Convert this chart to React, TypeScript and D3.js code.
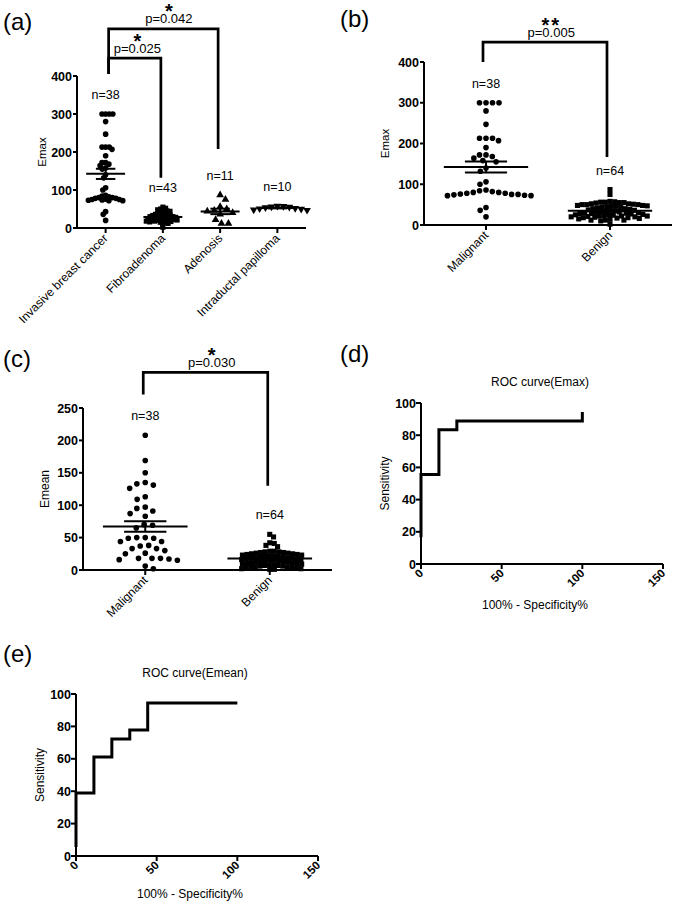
import React from "react";
import * as d3 from "d3";

// ---------------- DATA ----------------
const aCategories = ["Invasive breast cancer", "Fibroadenoma", "Adenosis", "Intraductal papilloma"];
const ibcEmax = [300, 300, 300, 300, 280, 247, 213, 213, 213, 207, 190, 172, 172, 168, 164, 158, 155, 140, 132, 106, 100,
  86, 84, 82, 80, 80, 78, 78, 76, 75, 75, 74, 73, 72, 72, 43, 36, 20];
const fibroEmax = [55, 52, 50, 48, 47, 45, 44, 42, 40, 38, 37, 36, 35, 34, 33, 32, 31, 30, 30, 29, 28, 28, 27, 26, 25, 25,
  24, 23, 22, 22, 21, 20, 20, 19, 18, 18, 17, 16, 15, 14, 12, 10, 2];
const adenosisEmax = [87, 75, 56, 50, 46, 44, 40, 36, 22, 12, 12];
const papillomaEmax = [58, 57, 56, 55, 54, 52, 51, 50, 48, 47];

const bcCategories = ["Malignant", "Benign"];
const malignantEmax = ibcEmax;
const benignEmax = [...fibroEmax, ...adenosisEmax, ...papillomaEmax];

const malignantEmean = [208, 169, 150, 135, 133, 131, 126, 113, 109, 97, 95, 91, 87, 83, 70, 69, 65, 50, 50, 49,
  49, 44, 44, 38, 37, 33, 33, 30, 26, 25, 18, 18, 18, 17, 16, 15, 6, 2];
const benignEmean = [55, 51, 42, 41, 38, 36,
  29, 29, 28, 28, 27, 27, 26, 26, 25, 25, 24, 24, 23, 23, 22, 22, 21, 21, 20, 20, 19, 19, 18, 18,
  17, 17, 16, 16, 15, 15, 14, 14, 13, 13, 12, 12, 11, 11, 10, 10, 9, 9, 8, 8, 7, 7, 6, 6, 5, 5,
  4, 4, 3, 3, 2, 2, 1, 1];

const emaxTicks = [0, 100, 200, 300, 400];
const emeanTicks = [0, 50, 100, 150, 200, 250];
const rocYTicks = [0, 20, 40, 60, 80, 100];
const rocXTicks = [0, 50, 100, 150];

const rocEmaxFpr = [0, 0, 11.11, 11.11, 22.22, 22.22, 100, 100];
const rocEmaxSens = [16.67, 55.56, 55.56, 83.33, 83.33, 88.89, 88.89, 94.44];
const rocEmeanFpr = [0, 0, 11.11, 11.11, 22.22, 22.22, 33.33, 33.33, 44.44, 44.44, 100];
const rocEmeanSens = [5.56, 38.89, 38.89, 61.11, 61.11, 72.22, 72.22, 77.78, 77.78, 94.44, 94.44];

const aTests = [
  { a: 0, b: 1, p: "p=0.025", stars: "*" },
  { a: 0, b: 2, p: "p=0.042", stars: "*" },
];
const bTests = [{ a: 0, b: 1, p: "p=0.005", stars: "**" }];
const cTests = [{ a: 0, b: 1, p: "p=0.030", stars: "*" }];

// ---------------- LAYOUT / STYLE ----------------
const FONT = "'Liberation Sans', Arial, Helvetica, sans-serif";
const INK = "#000";
// bracket levels in data units: top, left leg end, right leg end
const aBrackets = [
  { top: 447, left: 405, right: 132 },
  { top: 524, left: 405, right: 208 },
];
const bBrackets = [{ top: 449, left: 400, right: 167 }];
const cBrackets = [{ top: 305, left: 271, right: 130 }];

type Sym = "circle" | "square" | "tri" | "triDown";

function swarm(values: number[], y: (v: number) => number, D: number) {
  const pts = values.map((v) => ({ v, y: y(v), x: 0 }));
  const order = pts.slice().sort((a, b) => a.y - b.y);
  const placed: { x: number; y: number }[] = [];
  let flip = 1;
  for (const p of order) {
    const iv: [number, number][] = [];
    for (const q of placed) {
      const dy = Math.abs(q.y - p.y);
      if (dy < D) {
        const w = Math.sqrt(D * D - dy * dy);
        iv.push([q.x - w, q.x + w]);
      }
    }
    const cands = [0];
    iv.forEach(([a, b]) => cands.push(a, b));
    const ok = cands.filter((c) => iv.every(([a, b]) => c <= a + 1e-6 || c >= b - 1e-6));
    ok.sort((a, b) => {
      const d = Math.abs(a) - Math.abs(b);
      if (Math.abs(d) > 1e-6) return d;
      return flip * (a - b);
    });
    p.x = ok[0];
    flip = -flip;
    placed.push(p);
  }
  return pts;
}

function symPath(s: Sym) {
  if (s === "circle") return d3.symbol().type(d3.symbolCircle).size(25)()!;
  if (s === "square") return d3.symbol().type(d3.symbolSquare).size(26)()!;
  return d3.symbol().type(d3.symbolTriangle).size(26)()!;
}

function DotPanel(props: {
  categories: string[];
  groups: number[][];
  syms: Sym[];
  D: number[];
  x0: number; x1: number; yTop: number; yBot: number;
  domain: [number, number];
  ticks: number[];
  yLabel: string; yLabelX: number; yLabelSize: number;
  tests: { a: number; b: number; p: string; stars: string }[];
  brackets: { top: number; left: number; right: number }[];
  legDx: number[];
}) {
  const { categories, groups, syms, D, x0, x1, yTop, yBot, domain, ticks } = props;
  const x = d3.scaleBand().domain(categories).range([x0, x1]);
  const y = d3.scaleLinear().domain(domain).range([yBot, yTop]);
  const step = x.step();
  const cx = (i: number) => (x(categories[i]) as number) + x.bandwidth() / 2;
  const meanHalf = step * 0.34;
  const capHalf = step * 0.17;

  return (
    <g>
      {/* points */}
      {groups.map((vals, gi) => {
        const pts = swarm(vals, y, D[gi]);
        const path = symPath(syms[gi]);
        return (
          <g key={"g" + gi}>
            {pts.map((p, pi) => (
              <path key={pi} d={path} fill={INK}
                transform={`translate(${cx(gi) + p.x},${p.y})${syms[gi] === "triDown" ? " rotate(180)" : ""}`} />
            ))}
          </g>
        );
      })}
      {/* mean & SEM */}
      {groups.map((vals, gi) => {
        const m = d3.mean(vals)!;
        const sem = d3.deviation(vals)! / Math.sqrt(vals.length);
        const c = cx(gi);
        return (
          <g key={"m" + gi} stroke={INK} strokeWidth={2}>
            <line x1={c - meanHalf} x2={c + meanHalf} y1={y(m)} y2={y(m)} />
            <line x1={c - capHalf} x2={c + capHalf} y1={y(m + sem)} y2={y(m + sem)} />
            <line x1={c - capHalf} x2={c + capHalf} y1={y(m - sem)} y2={y(m - sem)} />
            <line x1={c} x2={c} y1={y(m + sem)} y2={y(m - sem)} />
          </g>
        );
      })}
      {/* n labels */}
      {groups.map((vals, gi) => (
        <text key={"n" + gi} x={cx(gi)} y={y(d3.max(vals)!) - 15} textAnchor="middle"
          fontFamily={FONT} fontSize={12.5} fill={INK}>{`n=${vals.length}`}</text>
      ))}
      {/* axes */}
      <line x1={x0} x2={x0} y1={yTop} y2={yBot + 1} stroke={INK} strokeWidth={2} />
      <line x1={x0 - 1} x2={x1} y1={yBot} y2={yBot} stroke={INK} strokeWidth={2} />
      {ticks.map((t) => (
        <g key={"yt" + t}>
          <line x1={x0 - 4} x2={x0} y1={y(t)} y2={y(t)} stroke={INK} strokeWidth={2} />
          <text x={x0 - 5} y={y(t)} dy="0.36em" textAnchor="end" fontFamily={FONT} fontWeight="bold"
            fontSize={12.5} fill={INK}>{t}</text>
        </g>
      ))}
      {categories.map((c, i) => (
        <g key={"xt" + i}>
          <line x1={cx(i)} x2={cx(i)} y1={yBot} y2={yBot + 5} stroke={INK} strokeWidth={2} />
          <text transform={`translate(${cx(i) + 3},${yBot + 11}) rotate(-45)`} textAnchor="end"
            fontFamily={FONT} fontSize={12} fill={INK}>{c}</text>
        </g>
      ))}
      <text transform={`translate(${props.yLabelX},${(yTop + yBot) / 2}) rotate(-90)`} dy="0.35em"
        textAnchor="middle" fontFamily={FONT} fontSize={props.yLabelSize} fill={INK}>{props.yLabel}</text>
      {/* brackets */}
      {props.tests.map((t, ti) => {
        const br = props.brackets[ti];
        const xl = cx(t.a) + props.legDx[0];
        const xr = cx(t.b) + props.legDx[1];
        const yt = y(br.top);
        const tx = (xl + xr) / 2 + (xr - xl) * 0.05;
        return (
          <g key={"t" + ti}>
            <path d={`M${xl},${y(br.left)}V${yt}H${xr}V${y(br.right)}`} fill="none" stroke={INK}
              strokeWidth={2.7} strokeLinejoin="miter" />
            <text textAnchor="middle" fontFamily={FONT} fill={INK}>
              <tspan x={tx} y={yt - 10.5} fontSize={20} fontWeight="bold"
                letterSpacing={t.stars.length > 1 ? 2 : 0}>{t.stars}</tspan>
              <tspan x={tx} y={yt - 5.5} fontSize={13}>{t.p}</tspan>
            </text>
          </g>
        );
      })}
    </g>
  );
}

function RocPanel(props: {
  fpr: number[]; sens: number[];
  x0: number; x1: number; yTop: number; yBot: number;
  title: string; titleY: number; xLabelY: number; yLabelX: number;
}) {
  const { fpr, sens, x0, x1, yTop, yBot } = props;
  const x = d3.scaleLinear().domain([0, 150]).range([x0, x1]);
  const y = d3.scaleLinear().domain([0, 100]).range([yBot, yTop]);
  const line = d3.line<number>().x((_, i) => x(fpr[i])).y((_, i) => y(sens[i]));
  const mid = (x0 + x1) / 2;
  return (
    <g>
      <line x1={x0} x2={x0} y1={yTop} y2={yBot + 1} stroke={INK} strokeWidth={2} />
      <line x1={x0 - 1} x2={x1} y1={yBot} y2={yBot} stroke={INK} strokeWidth={2} />
      {rocYTicks.map((t) => (
        <g key={"y" + t}>
          <line x1={x0 - 5} x2={x0} y1={y(t)} y2={y(t)} stroke={INK} strokeWidth={2} />
          <text x={x0 - 5} y={y(t)} dy="0.36em" textAnchor="end" fontFamily={FONT} fontWeight="bold"
            fontSize={12.5} fill={INK}>{t}</text>
        </g>
      ))}
      {rocXTicks.map((t) => (
        <g key={"x" + t}>
          <line x1={x(t)} x2={x(t)} y1={yBot} y2={yBot + 5} stroke={INK} strokeWidth={2} />
          <text transform={`translate(${x(t) + 3},${yBot + 10}) rotate(-45)`} textAnchor="end"
            fontFamily={FONT} fontWeight="bold" fontSize={11.5} fill={INK}>{t}</text>
        </g>
      ))}
      <path d={line(fpr)!} fill="none" stroke={INK} strokeWidth={3} strokeLinejoin="miter" />
      <text x={mid - 2} y={props.titleY} textAnchor="middle" fontFamily={FONT} fontSize={12} fill={INK}>{props.title}</text>
      <text x={mid - 7} y={props.xLabelY} textAnchor="middle" fontFamily={FONT} fontSize={12} fill={INK}>100% - Specificity%</text>
      <text transform={`translate(${props.yLabelX},${(yTop + yBot) / 2}) rotate(-90)`} dy="0.35em"
        textAnchor="middle" fontFamily={FONT} fontSize={12} fill={INK}>Sensitivity</text>
    </g>
  );
}

export default function App() {
  const label = (t: string, x: number, y: number) => (
    <text x={x} y={y} fontFamily={FONT} fontSize={24} fill={INK}>{t}</text>
  );
  return (
    <svg width={675} height={906} style={{ position: "absolute", left: 0, top: 0, background: "#fff" }}>
      <rect x={0} y={0} width={675} height={906} fill="#fff" />
      {label("(a)", 3, 30)}
      {label("(b)", 340, 27)}
      {label("(c)", 3, 367)}
      {label("(d)", 340, 362)}
      {label("(e)", 3, 662)}
      <DotPanel categories={aCategories} groups={[ibcEmax, fibroEmax, adenosisEmax, papillomaEmax]}
        syms={["circle", "square", "tri", "triDown"]} D={[3.6, 3.0, 7, 6]}
        x0={77} x1={306} yTop={76} yBot={228} domain={[0, 400]} ticks={emaxTicks}
        yLabel="Emax" yLabelX={42} yLabelSize={11.5}
        tests={aTests} brackets={aBrackets} legDx={[3, -2]} />
      <DotPanel categories={bcCategories} groups={[malignantEmax, benignEmax]}
        syms={["circle", "square"]} D={[6.5, 4.7]}
        x0={424} x1={672} yTop={62} yBot={225} domain={[0, 400]} ticks={emaxTicks}
        yLabel="Emax" yLabelX={385} yLabelSize={11.5}
        tests={bTests} brackets={bBrackets} legDx={[-3, -3]} />
      <DotPanel categories={bcCategories} groups={[malignantEmean, benignEmean]}
        syms={["circle", "square"]} D={[8.5, 4.6]}
        x0={83} x1={332} yTop={408} yBot={570} domain={[0, 250]} ticks={emeanTicks}
        yLabel="Emean" yLabelX={45} yLabelSize={12}
        tests={cTests} brackets={cBrackets} legDx={[-2, -2]} />
      <RocPanel fpr={rocEmaxFpr} sens={rocEmaxSens} x0={421} x1={663} yTop={403} yBot={564}
        title="ROC curve(Emax)" titleY={386} xLabelY={609} yLabelX={385} />
      <RocPanel fpr={rocEmeanFpr} sens={rocEmeanSens} x0={76} x1={318} yTop={694} yBot={856}
        title="ROC curve(Emean)" titleY={677} xLabelY={898} yLabelX={40} />
    </svg>
  );
}
